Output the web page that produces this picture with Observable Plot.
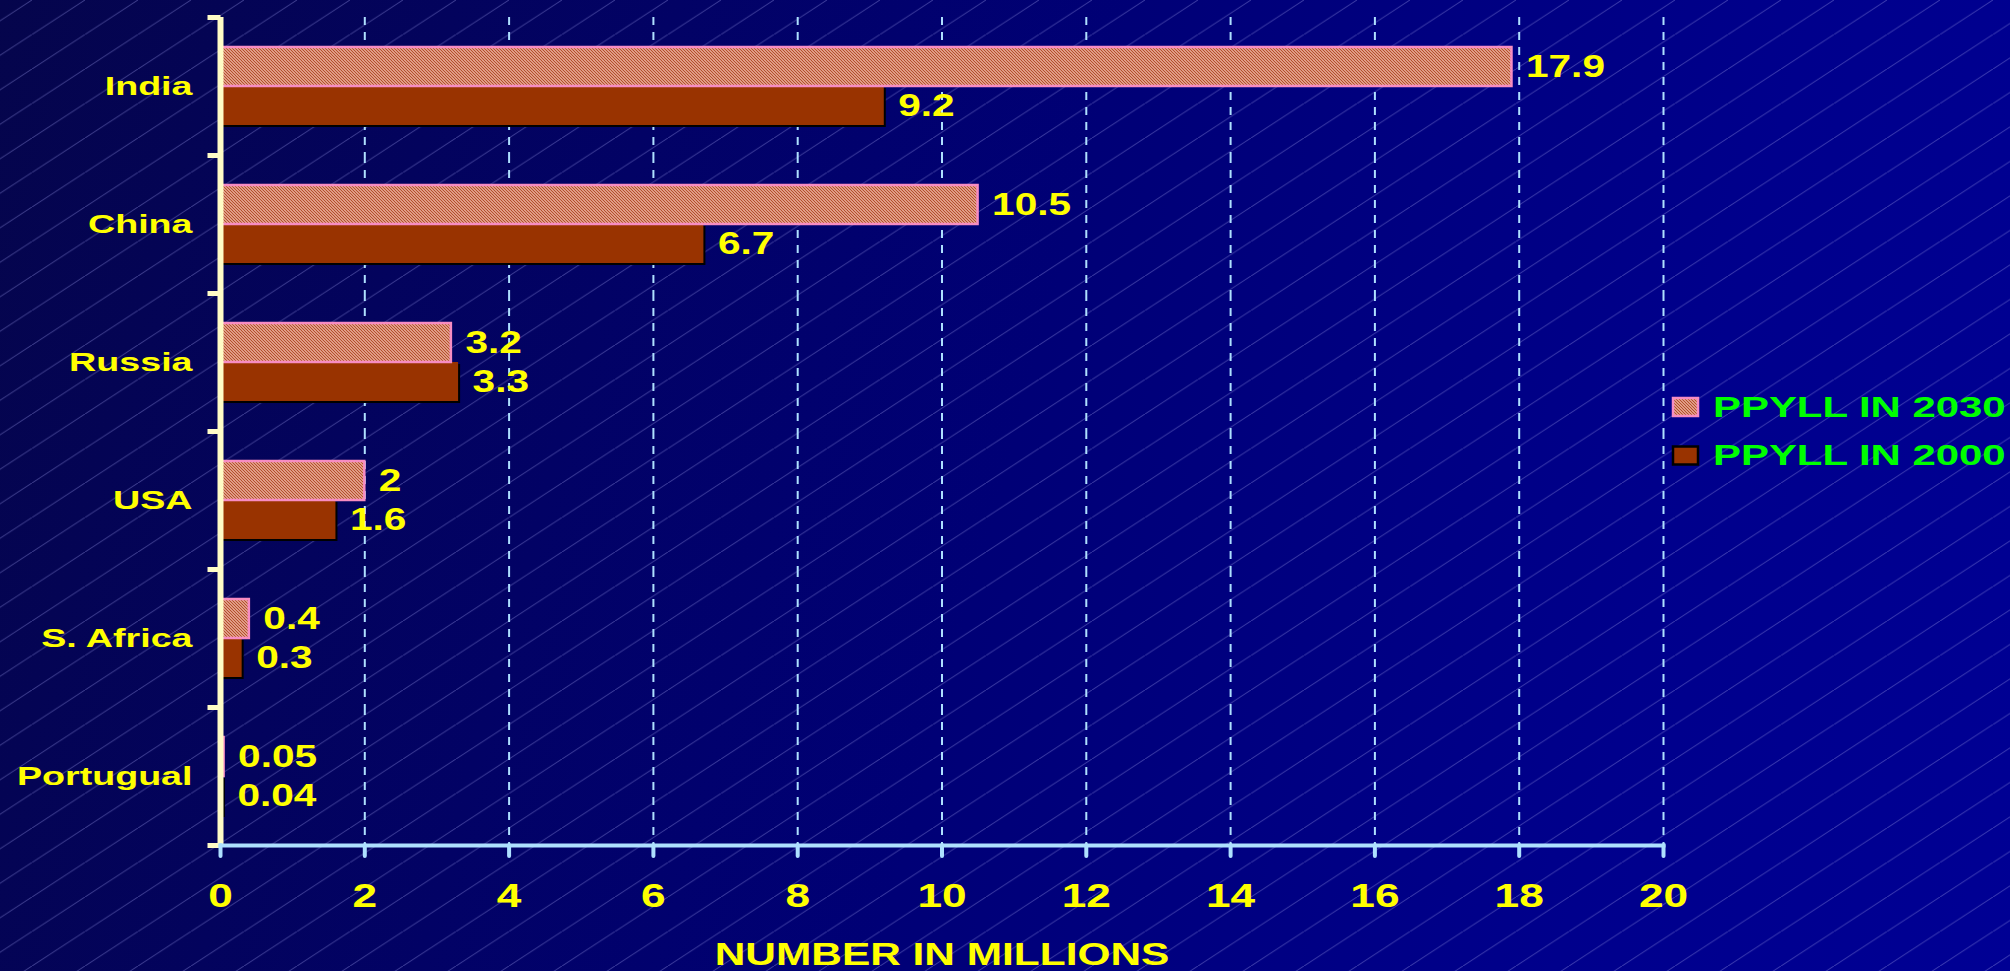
<!DOCTYPE html>
<html>
<head>
<meta charset="utf-8">
<script src="https://cdn.jsdelivr.net/npm/d3@7"></script>
<script src="https://cdn.jsdelivr.net/npm/@observablehq/plot@0.6"></script>
<style>
  html, body { margin: 0; padding: 0; width: 2010px; height: 971px; overflow: hidden; }
  body {
    background: linear-gradient(105deg, #05054c 0%, #000076 50%, #00008c 80%, #000094 100%);
    font-family: "Liberation Sans", Arial, sans-serif;
  }
  #bg { position: absolute; left: 0; top: 0; }
  #chart { position: absolute; left: 0; top: 0; }
  #legend { position: absolute; left: 1660px; top: 380px; }
  g[aria-label="x-axis label"] text { font-size: 30.5px; }
</style>
</head>
<body>
<svg id="bg" width="2010" height="971">
  <defs>
    <pattern id="diag" patternUnits="userSpaceOnUse" x="32" y="0" width="53" height="34.5">
      <path d="M-5.3,37.95 L58.3,-3.45" stroke="#9090e0" stroke-opacity="0.42" stroke-width="1" fill="none"></path>
    </pattern>
    <pattern id="hatch" patternUnits="userSpaceOnUse" width="3" height="3">
      <rect width="3" height="3" fill="#f4c2b2"></rect>
      <path d="M0,0 L3,3 M-1,2 L1,4 M2,-1 L4,1" stroke="#b24a26" stroke-width="1.2"></path>
    </pattern>
  </defs>
  <rect width="2010" height="971" fill="url(#diag)"></rect>
</svg>
<div id="chart"></div>
<svg id="legend" width="350" height="100"></svg>
<script>
// ---- data ----
const countries = ["India", "China", "Russia", "USA", "S. Africa", "Portugual"];
const ppyll2030 = [17.9, 10.5, 3.2, 2, 0.4, 0.05];
const ppyll2000 = [9.2, 6.7, 3.3, 1.6, 0.3, 0.04];
const seriesKeys = ["2030", "2000"];
const seriesNames = ["PPYLL IN 2030", "PPYLL IN 2000"];
const xTicks = [0, 2, 4, 6, 8, 10, 12, 14, 16, 18, 20];
const xLabel = "NUMBER IN MILLIONS";

// ---- styles ----
const YELLOW = "#ffff00";
const CREAM = "#fffcc6";
const CYAN = "#aee0ff";
const PINK = "#f78cc2";
const BROWN = "#993300";
const GREEN = "#00ff00";
const FONT = "Liberation Sans, Arial, sans-serif";

const rows = countries.map((c, i) => ({country: c, v2030: ppyll2030[i], v2000: ppyll2000[i]}));

const tickLeft = { draw(ctx) { ctx.moveTo(-13, 0); ctx.lineTo(0, 0); } };

const chart = Plot.plot({
  width: 2010,
  height: 971,
  marginLeft: 220,
  marginRight: 347,
  marginTop: 15,
  marginBottom: 124,
  style: { background: "transparent", fontFamily: FONT, fontWeight: "bold", overflow: "visible" },
  x: { domain: [0, 20] },
  y: { domain: seriesKeys, axis: null, paddingInner: 0, paddingOuter: 0.73 },
  fy: { domain: countries, axis: null, padding: 0 },
  marks: [
    Plot.ruleX(xTicks.filter(d => d > 0), { stroke: CYAN, strokeWidth: 2, strokeDasharray: "8,7" }),
    Plot.barX(rows, { fy: "country", y: () => seriesKeys[1], x: "v2000", fill: "black", dx: 2, dy: 2 }),
    Plot.barX(rows, { fy: "country", y: () => seriesKeys[1], x: "v2000", fill: BROWN }),
    Plot.barX(rows, { fy: "country", y: () => seriesKeys[0], x: "v2030", fill: "url(#hatch)", stroke: PINK, strokeWidth: 2.5 }),
    Plot.text(rows, { fy: "country", y: () => seriesKeys[0], x: "v2030", text: d => String(d.v2030), dx: 14, textAnchor: "start", fill: YELLOW, fontSize: 30.5, fontWeight: "bold", ariaDescription: "value labels" }),
    Plot.text(rows, { fy: "country", y: () => seriesKeys[1], x: "v2000", text: d => String(d.v2000), dx: 14, textAnchor: "start", fill: YELLOW, fontSize: 30.5, fontWeight: "bold", ariaDescription: "value labels" }),
    Plot.ruleX([0], { stroke: CREAM, strokeWidth: 6 }),
    Plot.dot(rows, { fy: "country", frameAnchor: "top-left", symbol: tickLeft, r: 5, fill: "none", stroke: CREAM, strokeWidth: 5 }),
    Plot.dot([countries[countries.length - 1]], { fy: d => d, frameAnchor: "bottom-left", symbol: tickLeft, r: 5, fill: "none", stroke: CREAM, strokeWidth: 5 }),
    Plot.text(rows, { fy: "country", frameAnchor: "left", text: "country", textAnchor: "end", dx: -28, fill: YELLOW, fontSize: 26.5, fontWeight: "bold", ariaDescription: "country labels" }),
    Plot.frame({ anchor: "bottom", facet: "super", stroke: CYAN, strokeWidth: 4 }),
    Plot.axisX({ ticks: xTicks, tickFormat: d => String(d), tickSize: 11, tickPadding: 27, stroke: CYAN, strokeWidth: 4, strokeLinecap: "round", fill: YELLOW, fontSize: 32.5, fontWeight: "bold", label: xLabel, labelAnchor: "center", labelArrow: "none", labelOffset: 119 })
  ]
});
document.getElementById("chart").appendChild(chart);

// ---- legend ----
const legend = d3.select("#legend");
const swatchFills = ["url(#hatch)", BROWN];
const swatchStrokes = [PINK, "black"];
seriesNames.forEach((name, i) => {
  const g = legend.append("g").attr("transform", `translate(0, ${i * 48.5})`);
  g.append("rect").attr("x", 13).attr("y", 18).attr("width", 25).attr("height", 18)
    .attr("fill", swatchFills[i]).attr("stroke", swatchStrokes[i]).attr("stroke-width", 2.5);
  g.append("text").attr("x", 53).attr("y", 36.5).text(name)
    .attr("fill", GREEN).attr("font-family", FONT).attr("font-weight", "bold").attr("font-size", 29.3);
});

// ---- extended lettering, as in the original slide font ----
function stretch(selection, k) {
  selection.each(function () {
    const w = this.getComputedTextLength();
    if (w > 0) {
      this.setAttribute("textLength", (w * k).toFixed(1));
      this.setAttribute("lengthAdjust", "spacingAndGlyphs");
    }
  });
}
const svg = d3.select(chart);
stretch(svg.selectAll('g[aria-description="value labels"] text'), 1.33);
stretch(svg.selectAll('g[aria-description="country labels"] text'), 1.42);
stretch(svg.selectAll('g[aria-label="x-axis tick label"] text'), 1.36);
stretch(svg.selectAll('g[aria-label="x-axis label"] text'), 1.39);
stretch(legend.selectAll("text"), 1.43);
</script>
</body>
</html>
